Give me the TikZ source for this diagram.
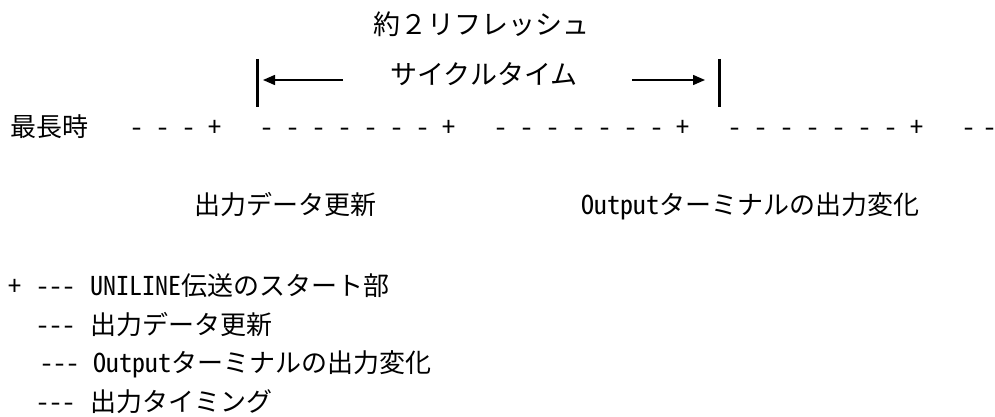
\documentclass[tikz,border=0pt]{standalone}
\usepackage{fontspec}
\setmainfont{Noto Sans CJK JP}
\newfontfamily\hw[RawFeature=+hwid]{Noto Sans CJK JP}
\usetikzlibrary{arrows.meta}
\tikzset{
  lbl/.style={inner sep=0pt, anchor=base, font=\fontsize{26}{30}\selectfont},
  lblw/.style={lbl, anchor=base west},
  big/.style={inner sep=0pt, anchor=base, font=\fontsize{27}{30}\selectfont},
  bar/.style={line width=3pt},
  arr/.style={line width=1.5pt, -{Triangle[length=12pt,width=10pt]}},
  tick/.style={lbl, font=\hw\fontsize{26}{30}\selectfont}
}
\begin{document}
\begin{tikzpicture}[x=1pt,y=-1pt]
\useasboundingbox (0,0) rectangle (995,417);
% title
\node[big] (t1) at (481,35) {約２リフレッシュ};
\node[big] (t2) at (484,85) {サイクルタイム};
% bars and arrows
\coordinate (lbtop) at (257,59);
\coordinate (lbbot) at (257,107);
\coordinate (rbtop) at (719,59);
\coordinate (rbbot) at (719,107);
\draw[bar] (lbtop) -- (lbbot);
\draw[bar] (rbtop) -- (rbbot);
\coordinate (latail) at (343,80);
\coordinate (latip) at (263,80);
\coordinate (ratail) at (632,80);
\coordinate (ratip) at (705,80);
\draw[arr] (latail) -- (latip);
\draw[arr] (ratail) -- (ratip);
% time row
\node[lbl] (longest) at (49.5,136) {最長時};
\foreach \x in {137,163,189,267,293,319,345,371,397,423,501,527,553,579,605,631,657,735,761,787,813,839,865,891,969,990}
  \node[tick] (d\x) at (\x,136) {-};
\foreach \x in {215,449,683,917}
  \node[tick] (p\x) at (\x,136) {+};
% labels
\node[lbl] (upd) at (285,214) {出力データ更新};
\node[lbl] (outchg) at (750,214) {{\hw Output}ターミナルの出力変化};
% legend
\node[tick] (lgplus) at (15,295) {+};
\node[tick, anchor=base west] (lg1d) at (36,295) {---};
\node[lblw] (lg1) at (90,295) {{\hw UNILINE}伝送のスタート部};
\node[tick, anchor=base west] (lg2d) at (36,334) {---};
\node[lblw] (lg2) at (90,334) {出力データ更新};
\node[tick, anchor=base west] (lg3d) at (40,372) {---};
\node[lblw] (lg3) at (93,372) {{\hw Output}ターミナルの出力変化};
\node[tick, anchor=base west] (lg4d) at (36,411) {---};
\node[lblw] (lg4) at (90,411) {出力タイミング};
\end{tikzpicture}
\end{document}
